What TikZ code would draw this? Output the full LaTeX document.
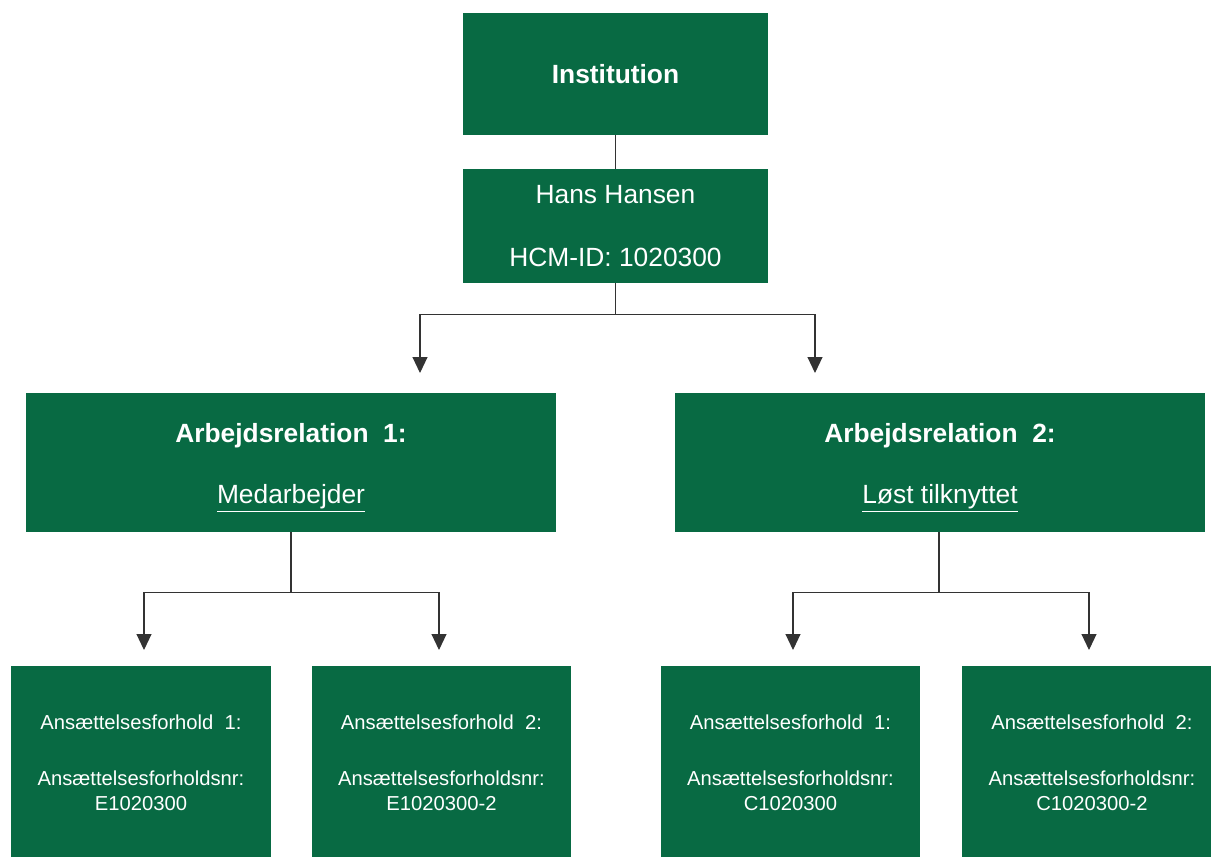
\documentclass[tikz,border=0pt]{standalone}
\usepackage{fontspec}
\setmainfont{Liberation Sans}
\usetikzlibrary{arrows.meta}
\definecolor{hrgreen}{RGB}{8,106,67}

\begin{document}
\begin{tikzpicture}[x=0.02cm,y=-0.02cm,
  box/.style={fill=hrgreen,text=white,align=center,inner sep=0pt,font=\fontsize{15}{18}\selectfont},
  sbox/.style={box,minimum width=5.2cm,minimum height=3.9cm,font=\fontsize{11.5}{14.2}\selectfont},
  conn/.style={draw=black!80,line width=0.6pt},
  arr/.style={conn,-{Triangle[length=0.32cm,width=0.3cm]}}]
\clip (0,0) rectangle (1211,856);
% top
\node[box,minimum width=6.1cm,minimum height=2.44cm] (inst) at (615.5,74) {\textbf{Institution}};
\node[box,minimum width=6.1cm,minimum height=2.28cm] (hans) at (615.5,226) {Hans Hansen\\[17.5pt]HCM-ID: 1020300};
% relations
\node[box,minimum width=10.6cm,minimum height=2.78cm] (arb1) at (291,462.5) {\rule{0pt}{16.8pt}\textbf{Arbejdsrelation\ \ 1:}\\[17pt]\underline{Medarbejder}};
\node[box,minimum width=10.6cm,minimum height=2.78cm] (arb2) at (940,462.5) {\rule{0pt}{16.8pt}\textbf{Arbejdsrelation\ \ 2:}\\[17pt]\underline{Løst tilknyttet}};
% employments
\node[sbox] (ans1) at (141,763) {Ansættelsesforhold\ \ 1:\\[17.6pt]Ansættelsesforholdsnr:\\E1020300};
\node[sbox] (ans2) at (441.5,763) {Ansættelsesforhold\ \ 2:\\[17.6pt]Ansættelsesforholdsnr:\\E1020300-2};
\node[sbox] (ans3) at (790.5,763) {Ansættelsesforhold\ \ 1:\\[17.6pt]Ansættelsesforholdsnr:\\C1020300};
\node[sbox] (ans4) at (1092,763) {Ansættelsesforhold\ \ 2:\\[17.6pt]Ansættelsesforholdsnr:\\C1020300-2};
% arrow tips
\coordinate (t1) at (420,373);
\coordinate (t2) at (815,373);
\coordinate (t3) at (144,650);
\coordinate (t4) at (439,650);
\coordinate (t5) at (793,650);
\coordinate (t6) at (1089,650);
% connectors
\draw[conn] (inst) -- (hans);
\draw[arr] (hans.south) -- ++(0,31) -| (t1);
\draw[arr] (hans.south) -- ++(0,31) -| (t2);
\draw[arr] (arb1.south) -- ++(0,60) -| (t3);
\draw[arr] (arb1.south) -- ++(0,60) -| (t4);
\draw[arr] ([xshift=-0.02cm]arb2.south) -- ++(0,60) -| (t5);
\draw[arr] ([xshift=-0.02cm]arb2.south) -- ++(0,60) -| (t6);
\end{tikzpicture}
\end{document}
